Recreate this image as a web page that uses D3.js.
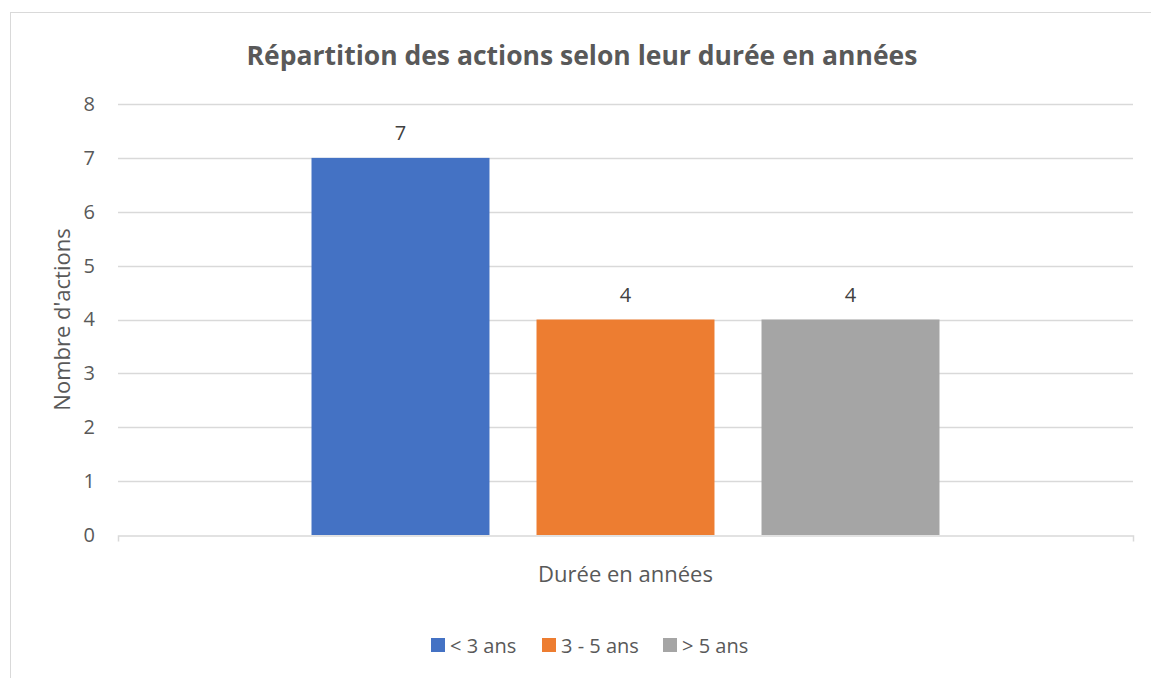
<!DOCTYPE html>
<html>
<head>
    <script src="https://d3js.org/d3.v7.min.js"></script>
    <style>
        body { margin: 0; background: #fff; }
        svg text { font-family: "Open Sans", "Noto Sans", sans-serif; fill: #595959; }
    </style>
</head>
<body>
<div id="chart"></div>
<script>
    // données
    const categories = ['Durée en années']
    const series = ['< 3 ans', '3 - 5 ans', '> 5 ans']
    const values = [7, 4, 4]
    const colours = ['#4472c4', '#ed7d31', '#a5a5a5']
    const yTicks = [0, 1, 2, 3, 4, 5, 6, 7, 8]

    const w = 1151
    const h = 678
    const plotLeft = 118, plotRight = 1133, plotTop = 104, plotBottom = 535

    const svg = d3.select('#chart').append('svg')
        .attr('width', w)
        .attr('height', h)

    // cadre du graphique
    svg.append('rect')
        .attr('x', 10.5).attr('y', 12.5)
        .attr('width', 1160).attr('height', 700)
        .attr('fill', 'none')
        .attr('stroke', '#d9d9d9')

    svg.append('text')
        .attr('x', 582).attr('y', 65)
        .attr('text-anchor', 'middle')
        .style('font-size', '26.5px')
        .style('font-weight', 'bold')
        .text('Répartition des actions selon leur durée en années')

    const y = d3.scaleLinear().domain([0, 8]).range([plotBottom, plotTop])
    const x0 = d3.scaleBand().domain(categories).range([plotLeft, plotRight])
    const x1 = d3.scaleBand().domain(series)
        .range([0, x0.bandwidth()])
        .paddingInner(0.209)
        .paddingOuter(0.86)

    // quadrillage
    svg.append('g').selectAll('line')
        .data(yTicks.filter(d => d > 0))
        .enter().append('line')
        .attr('x1', plotLeft).attr('x2', plotRight)
        .attr('y1', d => Math.round(y(d)) + 0.5)
        .attr('y2', d => Math.round(y(d)) + 0.5)
        .attr('stroke', '#d9d9d9')
        .attr('stroke-width', 1.5)

    const yAxis = d3.axisLeft(y).tickValues(yTicks).tickSize(0).tickPadding(23)
    const gy = svg.append('g')
        .attr('transform', 'translate(' + plotLeft + ',0)')
        .call(yAxis)
    gy.select('.domain').remove()
    gy.selectAll('text').style('font-size', '20px')

    // barres
    const g = svg.append('g').attr('transform', 'translate(' + x0(categories[0]) + ',0)')
    g.selectAll('rect')
        .data(series)
        .enter().append('rect')
        .attr('x', d => x1(d))
        .attr('y', (d, i) => y(values[i]))
        .attr('width', x1.bandwidth())
        .attr('height', (d, i) => plotBottom - y(values[i]))
        .attr('fill', (d, i) => colours[i])

    g.selectAll('.lbl')
        .data(series)
        .enter().append('text')
        .attr('class', 'lbl')
        .attr('x', d => x1(d) + x1.bandwidth() / 2)
        .attr('y', (d, i) => y(values[i]) - 18)
        .attr('text-anchor', 'middle')
        .style('font-size', '20px')
        .style('fill', '#404040')
        .text((d, i) => values[i])

    // axe horizontal
    const xAxis = d3.axisBottom(x0).tickSizeInner(0).tickSizeOuter(6).tickPadding(31)
    const gx = svg.append('g')
        .attr('transform', 'translate(0,' + (plotBottom + 0.5) + ')')
        .call(xAxis)
    gx.select('.domain').attr('stroke', '#d9d9d9').attr('stroke-width', 1.5)
    gx.selectAll('text').style('font-size', '22px')

    svg.append('text')
        .attr('transform', 'translate(70,' + ((plotTop + plotBottom) / 2) + ') rotate(-90)')
        .attr('text-anchor', 'middle')
        .style('font-size', '22px')
        .text("Nombre d'actions")

    // légende
    const legendX = [431, 542, 663]
    const legend = svg.append('g').selectAll('g')
        .data(series)
        .enter().append('g')
        .attr('transform', (d, i) => 'translate(' + legendX[i] + ',638)')
    legend.append('rect')
        .attr('width', 14).attr('height', 14)
        .attr('fill', (d, i) => colours[i])
    legend.append('text')
        .attr('x', 19).attr('y', 15)
        .style('font-size', '20px')
        .text(d => d)
</script>
</body>
</html>
